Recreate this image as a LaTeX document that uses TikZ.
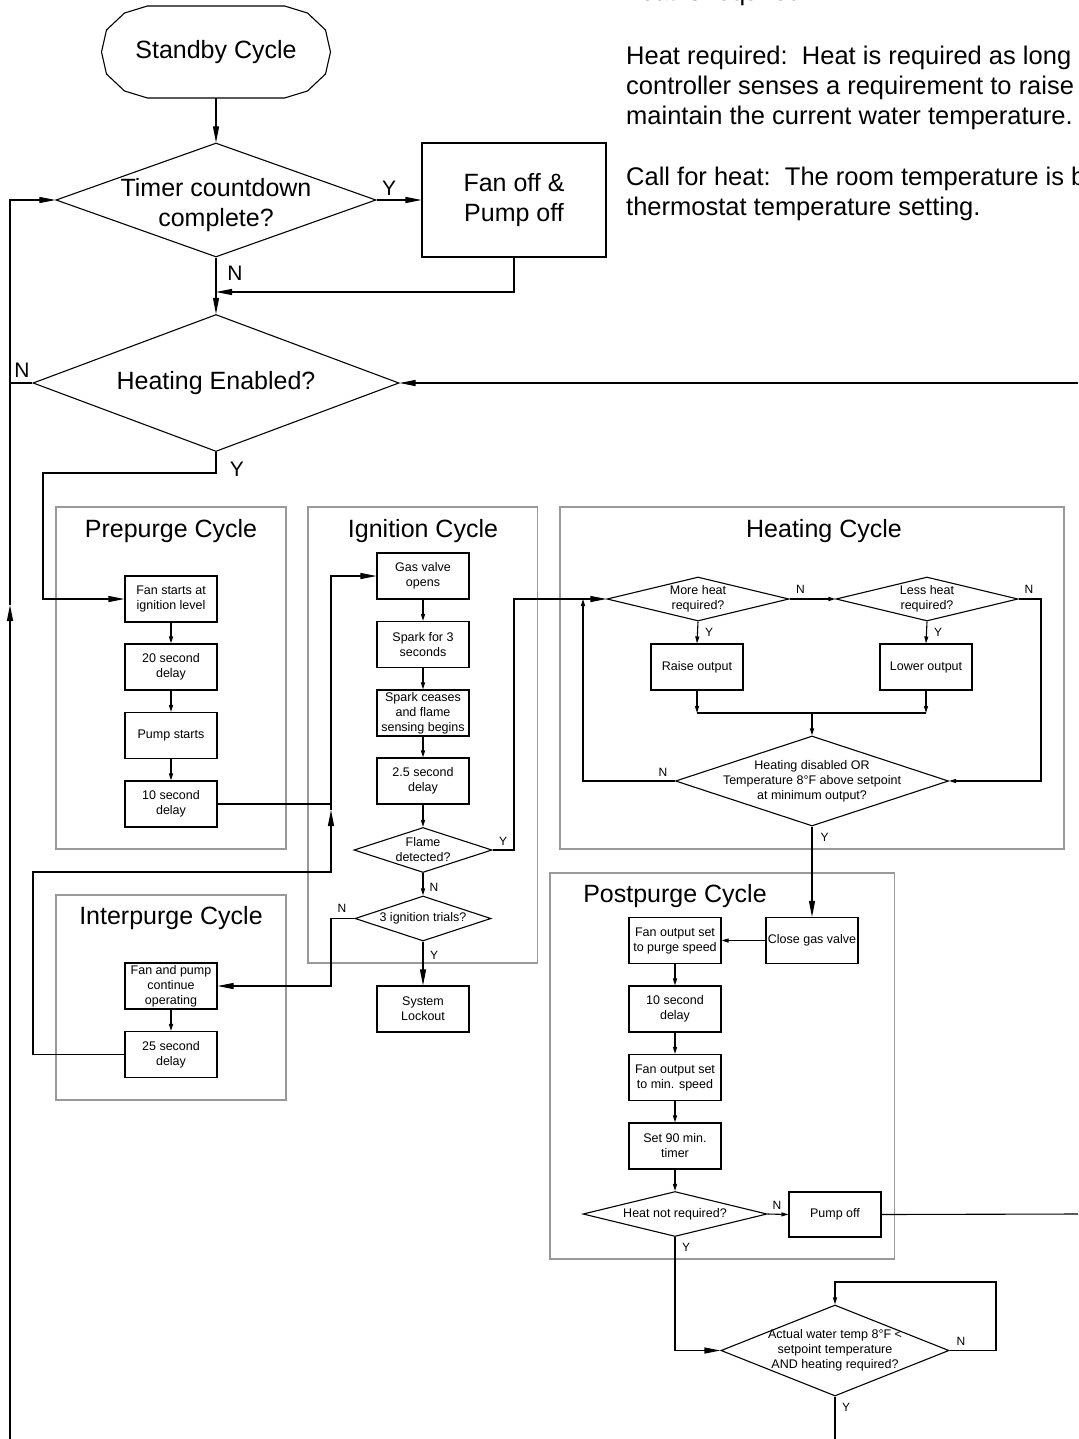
\documentclass[tikz,border=0pt]{standalone}
\usepackage{fontspec}
\setmainfont{Liberation Sans}
\usetikzlibrary{
  arrows.meta,
  shapes.geometric
}
\newcommand{\flowbig}{\fontsize{25}{30}\selectfont}
\newcommand{\flownote}{\fontsize{25.5}{30}\selectfont}
\newcommand{\flowsmall}{\fontsize{12.5}{15}\selectfont}
\newcommand{\flowyn}{\fontsize{21}{25}\selectfont}
\newcommand{\flowynsmall}{\fontsize{12}{14}\selectfont}
\tikzset{
  boxline/.style={
    draw, line width=1.1pt
  },
  procbox/.style={
    rectangle, boxline, minimum width=92pt, minimum height=46pt,
    inner sep=1pt, align=center, font=\flowsmall
  },
  decision/.style={
    diamond, boxline, inner sep=0pt
  },
  dtext/.style={
    align=center, font=\flowsmall
  },
  dtextbig/.style={
    align=center, font=\flowbig
  },
  groupbox/.style={
    rectangle, draw=black!40, line width=1.3pt
  },
  grouptitle/.style={
    anchor=base, font=\flowbig
  },
  note/.style={
    inner sep=0pt, align=left, font=\flownote
  },
  ynbig/.style={
    font=\flowyn, inner sep=0pt
  },
  yn/.style={
    font=\flowynsmall, inner sep=0pt
  },
  flowline/.style={
    line width=1.1pt
  },
  mainarrow/.style={
    flowline, -{Triangle[length=16pt,width=6pt]}
  },
  smallarrow/.style={
    flowline, -{Triangle[length=7pt,width=4pt]}
  },
}

\begin{document}
\begin{tikzpicture}[x=1pt, y=-1pt]
  \clip (0,0) rectangle (1078,1439);

  % notes, top right
  \node[note, anchor=base west] (note0) at (626,1) {heat is required.};
  \node[note, anchor=north west] (note1) at (626,46) {Heat required:\ \ Heat is required as long\\controller senses a requirement to raise\\maintain the current water temperature.};
  \node[note, anchor=north west] (note2) at (626,167) {Call for heat:\ \ The room temperature is b\\thermostat temperature setting.};

  % cycle frames
  \node[groupbox, minimum width=230pt, minimum height=342pt] (prepurge) at (171,678) {};
  \node[groupbox, minimum width=229.5pt, minimum height=456pt] (ignition) at (422.75,735) {};
  \node[groupbox, minimum width=504pt, minimum height=342pt] (heating) at (812,678) {};
  \node[groupbox, minimum width=230pt, minimum height=205pt] (interpurge) at (171,997.5) {};
  \node[groupbox, minimum width=344.5pt, minimum height=386pt] (postpurge) at (722.25,1066) {};

  \node[grouptitle] (prepurge-t) at (171,537) {Prepurge Cycle};
  \node[grouptitle] (ignition-t) at (423,537) {Ignition Cycle};
  \node[grouptitle] (heating-t) at (824,537) {Heating Cycle};
  \node[grouptitle] (interpurge-t) at (171,924) {Interpurge Cycle};
  \node[grouptitle] (postpurge-t) at (675,902) {Postpurge Cycle};

  % standby
  \node[font=\flowbig, minimum width=229pt, minimum height=92pt] (standby) at (216,52) {Standby Cycle};
  \draw[boxline, shift={(standby.center)}] (-68.5,-46) -- (68.5,-46) -- (91.5,-39) -- (109.5,-22) -- (114.5,0) -- (109.5,22) -- (91.5,39) -- (68.5,46) -- (-68.5,46) -- (-91.5,39) -- (-109.5,22) -- (-114.5,0) -- (-109.5,-22) -- (-91.5,-39) -- cycle;
  \node[decision, minimum width=320pt, minimum height=114pt, label={[dtextbig, yshift=-5pt]center:Timer countdown\\complete?}] (timer) at (216,200) {};
  \node[procbox, font=\flowbig, minimum width=184pt, minimum height=114pt] (fanoff) at (514,200) {Fan off \&\\Pump off};
  \node[decision, minimum width=366pt, minimum height=137pt, label={[dtextbig]center:Heating Enabled?}] (heaten) at (216,383) {};

  % prepurge
  \node[procbox] (pre1) at (171,599) {Fan starts at\\ignition level};
  \node[procbox] (pre2) at (171,667) {20 second\\delay};
  \node[procbox] (pre3) at (171,735.5) {Pump starts};
  \node[procbox] (pre4) at (171,804) {10 second\\delay};

  % ignition
  \node[procbox] (ign1) at (423,576) {Gas valve\\opens};
  \node[procbox] (ign2) at (423,644.5) {Spark for 3\\seconds};
  \node[procbox] (ign3) at (423,713) {Spark ceases\\and flame\\sensing begins};
  \node[procbox] (ign4) at (423,781) {2.5 second\\delay};
  \node[decision, minimum width=138pt, minimum height=45pt, label={[dtext]center:Flame\\detected?}] (flame) at (423,850) {};
  \node[decision, minimum width=136pt, minimum height=45pt, label={[dtext]center:3 ignition trials?}] (trials) at (423,918.5) {};
  \node[procbox] (lockout) at (423,1009) {System\\Lockout};

  % interpurge
  \node[procbox] (inter1) at (171,986) {Fan and pump\\continue\\operating};
  \node[procbox] (inter2) at (171,1054.5) {25 second\\delay};

  % heating
  \node[decision, minimum width=182pt, minimum height=44pt, label={[dtext]center:More heat\\required?}] (moreheat) at (698,599) {};
  \node[decision, minimum width=182pt, minimum height=44pt, label={[dtext]center:Less heat\\required?}] (lessheat) at (927,599) {};
  \node[procbox] (raise) at (697,667) {Raise output};
  \node[procbox] (lower) at (926,667) {Lower output};
  \node[decision, minimum width=273pt, minimum height=90pt, label={[dtext]center:Heating disabled OR\\Temperature 8°F above setpoint\\at minimum output?}] (hdis) at (812,781) {};

  % postpurge
  \node[procbox, inner sep=0pt] (closegas) at (812,940.5) {Close gas valve};
  \node[procbox] (purge) at (675,940.5) {Fan output set\\to purge speed};
  \node[procbox] (post2) at (675,1009) {10 second\\delay};
  \node[procbox] (post3) at (675,1077.5) {Fan output set\\to min. speed};
  \node[procbox] (post4) at (675,1146) {Set 90 min.\\timer};
  \node[decision, minimum width=184pt, minimum height=45pt, label={[dtext]center:Heat not required?}] (heatnot) at (675,1214) {};
  \node[procbox, minimum height=45pt] (pumpoff) at (835,1214.5) {Pump off};
  \node[decision, minimum width=228pt, minimum height=91pt, label={[dtext]center:Actual water temp 8°F <\\setpoint temperature\\AND heating required?}] (water) at (835,1350.5) {};

  % turning points
  \coordinate (leftbot) at (10,1439);
  \coordinate (leftup) at (10,605);
  \coordinate (rightin) at (1078,383);
  \coordinate (fanret) at (216,292);
  \coordinate (yturn) at (43,473);
  \coordinate (ignjoin) at (331,810);
  \coordinate (interturn) at (33,872);
  \coordinate (trialturn) at (331,986);
  \coordinate (flameturn) at (514,599);
  \coordinate (loopturn) at (583,599);
  \coordinate (lessturn) at (1041,781);
  \coordinate (merge) at (812,713);
  \coordinate (pumpout) at (1078,1214);
  \coordinate (waterloop) at (996,1282);
  \coordinate (botout) at (835,1439);

  % Y / N
  \node[ynbig] (timer-y) at (389,188) {Y};
  \node[ynbig] (timer-n) at (235,273) {N};
  \node[ynbig] (heaten-n) at (22,370) {N};
  \node[ynbig] (heaten-y) at (237,469) {Y};
  \node[yn] (flame-y) at (503,841) {Y};
  \node[yn] (flame-n) at (434,887) {N};
  \node[yn] (trials-n) at (342,908) {N};
  \node[yn] (trials-y) at (434,955) {Y};
  \node[yn] (moreheat-n) at (800.5,589.5) {N};
  \node[yn] (moreheat-y) at (709,632.5) {Y};
  \node[yn] (lessheat-n) at (1029,589.5) {N};
  \node[yn] (lessheat-y) at (938,632.5) {Y};
  \node[yn] (hdis-n) at (663,772.5) {N};
  \node[yn] (hdis-y) at (824.5,837) {Y};
  \node[yn] (heatnot-n) at (777,1205) {N};
  \node[yn] (heatnot-y) at (686,1247) {Y};
  \node[yn] (water-n) at (961,1341.5) {N};
  \node[yn] (water-y) at (846,1407) {Y};

  % standby loop
  \draw[mainarrow] (standby.south) -- (timer.north);
  \draw[mainarrow] (timer.east) -- (fanoff.west);
  \draw[mainarrow] (fanoff.south) |- (fanret);
  \draw[mainarrow] (timer.south) -- (heaten.north);
  \draw[mainarrow] (leftbot) -- (leftup);
  \draw[mainarrow] (leftup) |- (timer.west);
  \draw[flowline] (heaten.west) -- (heaten.west -| leftup);
  \draw[mainarrow] (rightin) -- (heaten.east);
  \draw[mainarrow] (heaten.south) |- (yturn) |- (pre1.west);

  % prepurge
  \draw[smallarrow] (pre1.south) -- (pre2.north);
  \draw[smallarrow] (pre2.south) -- (pre3.north);
  \draw[smallarrow] (pre3.south) -- (pre4.north);
  \draw[flowline] (pre4.east) -- (pre4.east -| ignjoin);

  % ignition
  \draw[mainarrow] (ignjoin) |- (ign1.west);
  \draw[smallarrow] (ign1.south) -- (ign2.north);
  \draw[smallarrow] (ign2.south) -- (ign3.north);
  \draw[smallarrow] (ign3.south) -- (ign4.north);
  \draw[smallarrow] (ign4.south) -- (flame.north);
  \draw[smallarrow] (flame.south) -- (trials.north);
  \draw[mainarrow] (flame.east) -| (flameturn) -- (moreheat.west);
  \draw[mainarrow] (trials.west) -| (trialturn) -- (inter1.east);
  \draw[mainarrow] (trials.south) -- (lockout.north);

  % interpurge
  \draw[smallarrow] (inter1.south) -- (inter2.north);
  \draw[mainarrow] (inter2.west) -| (interturn) -| (ignjoin);

  % heating
  \draw[smallarrow] (moreheat.east) -- (lessheat.west);
  \draw[smallarrow] (moreheat.south) -- (raise.north);
  \draw[smallarrow] (lessheat.south) -- (lower.north);
  \draw[smallarrow] (raise.south) -- (raise.south |- merge);
  \draw[smallarrow] (lower.south) -- (lower.south |- merge);
  \draw[flowline] (raise.south |- merge) -- (lower.south |- merge);
  \draw[smallarrow] (merge) -- (hdis.north);
  \draw[smallarrow] (hdis.west) -| (loopturn);
  \draw[smallarrow] (lessheat.east) -| (lessturn) -- (hdis.east);
  \draw[mainarrow] (hdis.south) -- (closegas.north);

  % postpurge
  \draw[smallarrow] (closegas.west) -- (purge.east);
  \draw[smallarrow] (purge.south) -- (post2.north);
  \draw[smallarrow] (post2.south) -- (post3.north);
  \draw[smallarrow] (post3.south) -- (post4.north);
  \draw[smallarrow] (post4.south) -- (heatnot.north);
  \draw[smallarrow] (heatnot.east) -- (pumpoff.west);
  \draw[flowline] (pumpoff.east) -- (pumpout);
  \draw[mainarrow] (heatnot.south) |- (water.west);
  \draw[smallarrow] (water.east) -| (waterloop) -| (water.north);
  \draw[flowline] (water.south) -- (botout);
\end{tikzpicture}
\end{document}
